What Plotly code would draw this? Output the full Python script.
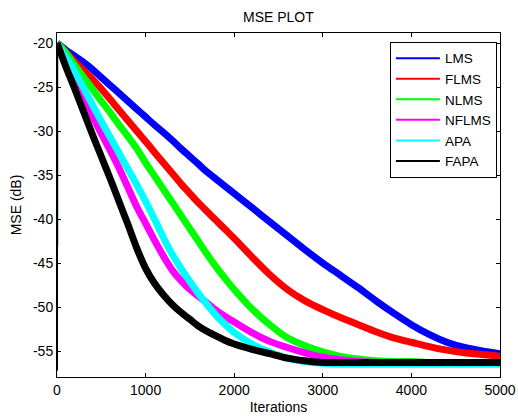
import plotly.graph_objects as go

# ---- data ----
iterations = [1, 100, 200, 300, 400, 500, 600, 700, 800, 900, 1000,
              1100, 1200, 1300, 1400, 1500, 1600, 1700, 1800, 1900, 2000,
              2200, 2400, 2600, 2800, 3000, 3200, 3400, 3600, 3800, 4000,
              4200, 4400, 4600, 4800, 5000]

start_iteration = 0
start_db = -57.2

lms = [-20.0, -20.8, -21.5, -22.2, -23.0, -23.9, -24.8, -25.7, -26.6, -27.5, -28.4,
       -29.3, -30.15, -31.05, -32.0, -32.9, -33.8, -34.7, -35.5, -36.3, -37.1,
       -38.7, -40.3, -41.9, -43.5, -45.0, -46.4, -47.8, -49.3, -50.7, -52.0,
       -53.1, -54.0, -54.6, -55.0, -55.3]

flms = [-20.0, -21.0, -22.1, -23.1, -24.1, -25.2, -26.4, -27.6, -28.8, -30.0, -31.2,
        -32.4, -33.6, -34.8, -36.0, -37.1, -38.2, -39.2, -40.2, -41.2, -42.2,
        -44.3, -46.3, -48.0, -49.3, -50.3, -51.2, -52.0, -52.8, -53.5, -54.0,
        -54.5, -54.9, -55.2, -55.4, -55.6]

nlms = [-20.0, -21.1, -22.5, -23.9, -25.2, -26.6, -27.9, -29.3, -30.6, -32.0, -33.6,
        -35.1, -36.6, -38.1, -39.6, -41.1, -42.6, -44.1, -45.5, -46.8, -48.0,
        -50.2, -52.0, -53.5, -54.4, -55.1, -55.6, -55.9, -56.1, -56.2, -56.2,
        -56.3, -56.3, -56.3, -56.3, -56.3]

nflms = [-20.0, -22.0, -24.0, -26.2, -28.3, -30.3, -32.2, -34.2, -36.4, -38.6, -40.5,
         -42.4, -44.2, -45.8, -47.0, -48.0, -48.8, -49.6, -50.4, -51.1, -51.7,
         -52.9, -53.9, -54.6, -55.2, -55.7, -56.0, -56.2, -56.3, -56.4, -56.4,
         -56.4, -56.4, -56.4, -56.4, -56.4]

apa = [-20.0, -21.6, -23.2, -25.1, -27.0, -28.9, -30.7, -32.5, -34.3, -36.1, -38.0,
       -40.0, -42.1, -44.0, -45.6, -47.1, -48.5, -49.8, -51.0, -52.0, -52.9,
       -54.2, -55.1, -55.8, -56.2, -56.4, -56.5, -56.5, -56.5, -56.5, -56.5,
       -56.5, -56.5, -56.5, -56.5, -56.5]

fapa = [-20.0, -22.7, -25.2, -27.8, -30.4, -32.9, -35.4, -38.0, -40.6, -43.3, -45.6,
        -47.3, -48.6, -49.7, -50.6, -51.4, -52.2, -52.8, -53.3, -53.8, -54.2,
        -54.8, -55.3, -55.8, -56.1, -56.3, -56.3, -56.3, -56.3, -56.3, -56.3,
        -56.3, -56.3, -56.3, -56.3, -56.3]

series_names = ["LMS", "FLMS", "NLMS", "NFLMS", "APA", "FAPA"]
series_values = [lms, flms, nlms, nflms, apa, fapa]
series_colors = ["#0000FF", "#FF0000", "#00FF00", "#FF00FF", "#00FFFF", "#000000"]

x_ticks = [0, 1000, 2000, 3000, 4000, 5000]
y_ticks = [-55, -50, -45, -40, -35, -30, -25, -20]

FONT = "Arial, Liberation Sans, Helvetica, sans-serif"

fig = go.Figure()

for name, vals, col in zip(series_names, series_values, series_colors):
    # initial sample drop at iteration 0
    fig.add_trace(go.Scatter(
        x=[start_iteration, iterations[0]], y=[start_db, vals[0]],
        mode="lines", line=dict(color=col, width=2),
        showlegend=False, hoverinfo="skip"))
    fig.add_trace(go.Scatter(
        x=iterations, y=vals, mode="lines", name=name,
        line=dict(color=col, width=7, shape="spline", smoothing=0.8),
        showlegend=False, legendgroup=name))

# legend entries with thin sample lines
for name, col in zip(series_names, series_colors):
    fig.add_trace(go.Scatter(
        x=[None], y=[None], mode="lines", name=name,
        line=dict(color=col, width=2), legendgroup=name, showlegend=True))

fig.update_layout(
    width=518, height=417,
    margin=dict(l=57, r=18, t=33, b=40, autoexpand=False),
    paper_bgcolor="white", plot_bgcolor="white",
    font=dict(family=FONT, size=14, color="black"),
    title=dict(text="MSE PLOT", x=0.5375, xanchor="center",
               y=0.958, yanchor="middle",
               font=dict(family=FONT, size=14, color="black")),
    showlegend=True,
    legend=dict(x=0.993, y=0.974, xanchor="right", yanchor="top",
                bgcolor="white", bordercolor="black", borderwidth=1,
                font=dict(family=FONT, size=13.5, color="black"),
                itemwidth=44, tracegroupgap=0),
)

fig.update_xaxes(
    range=[0, 5000], tickvals=x_ticks, ticktext=[str(v) for v in x_ticks],
    ticks="inside", ticklen=4, tickcolor="black",
    showline=True, linecolor="black", linewidth=1, mirror="ticks",
    showgrid=False, zeroline=False, automargin=False,
    title=dict(text="Iterations", font=dict(family=FONT, size=14), standoff=5),
    tickfont=dict(family=FONT, size=14),
)
fig.update_yaxes(
    range=[-57.95, -18.86], tickvals=y_ticks, ticktext=[str(v) for v in y_ticks],
    ticks="inside", ticklen=4, tickcolor="black",
    showline=True, linecolor="black", linewidth=1, mirror="ticks",
    showgrid=False, zeroline=False, automargin=False,
    title=dict(text="MSE (dB)", font=dict(family=FONT, size=14), standoff=8),
    tickfont=dict(family=FONT, size=14),
)

fig.write_html("out.html",
               config={"displayModeBar": False},
               post_script="document.body.style.margin='0';document.body.style.padding='0';")
